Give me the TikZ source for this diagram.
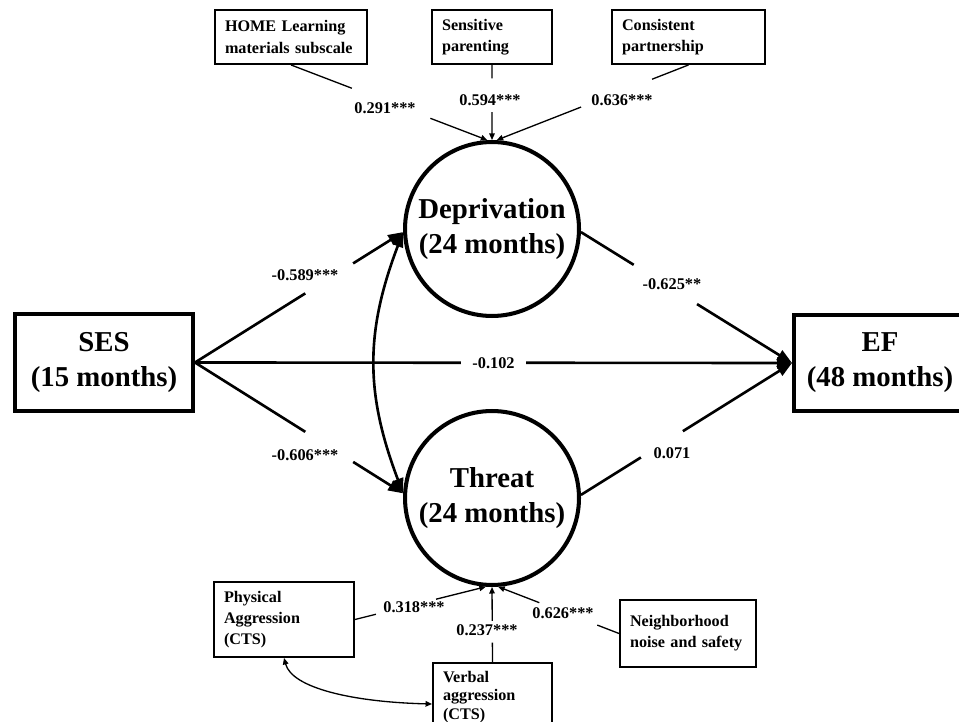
\documentclass[tikz,border=0pt]{standalone}
\usepackage{fontspec}
\setmainfont{Liberation Serif}
\usetikzlibrary{arrows.meta,calc}
\begin{document}
\begin{tikzpicture}[x=0.02cm,y=-0.02cm,
  bigtxt/.style={font=\fontsize{16.4}{20}\selectfont\bfseries, align=center},
  bigbox/.style={bigtxt, draw, line width=2.3pt, inner sep=0pt},
  latent/.style={bigtxt, draw, circle, line width=2.3pt, inner sep=0pt, minimum size=3.48cm},
  smallbox/.style={draw, line width=1.1pt, font=\fontsize{9.2}{12}\selectfont\bfseries, align=left, inner xsep=0.2cm, inner ysep=0pt},
  lbl/.style={font=\fontsize{9.3}{11}\selectfont\bfseries, inner sep=1pt},
  mainline/.style={line width=1.5pt},
  mainarrow/.style={line width=1.5pt, -{Triangle[length=0.3cm,width=0.22cm]}},
  thinline/.style={line width=0.75pt},
  thinarrow/.style={line width=0.75pt, -{Triangle[length=0.13cm,width=0.11cm]}},
]
\useasboundingbox (0,0) rectangle (959,722);

% main constructs
\node[bigbox, minimum width=3.56cm, minimum height=1.94cm] (ses) at (104,362.5) {SES\\(15 months)};
\node[bigbox, minimum width=3.44cm, minimum height=1.92cm] (ef) at (880,363) {EF\\(48 months)};
\node[latent] (dep) at (492,229) {Deprivation\\(24 months)};
\node[latent] (thr) at (492,498) {Threat\\(24 months)};

% indicators
\node[smallbox, text width=2.64cm, minimum height=1.08cm] (home) at (291,37) {HOME Learning\\materials subscale};
\node[smallbox, text width=2.0cm, minimum height=1.08cm] (sens) at (492,37) {Sensitive\\parenting};
\node[smallbox, text width=2.66cm, minimum height=1.08cm] (cons) at (688.5,37) {Consistent\\partnership};
\node[smallbox, text width=2.4cm, minimum height=1.5cm] (phys) at (284,619.5) {Physical\\Aggression\\(CTS)};
\node[smallbox, text width=1.98cm, anchor=north, inner ysep=0.16cm,
  font=\fontsize{9.2}{10.6}\selectfont\bfseries] (verb) at (492.5,662) {Verbal\\aggression\\(CTS)};
\node[smallbox, text width=2.32cm, minimum height=1.34cm] (neigh) at (688,633.5) {Neighborhood\\noise and safety};

% labels
\node[lbl] (l291) at (385,108) {0.291***};
\node[lbl] (l594) at (490,100) {0.594***};
\node[lbl] (l636) at (622,100) {0.636***};
\node[lbl] (l589) at (305,275) {-0.589***};
\node[lbl] (l606) at (305,455) {-0.606***};
\node[lbl] (l625) at (672,284) {-0.625**};
\node[lbl] (l071) at (672,453) {0.071};
\node[lbl] (l318) at (414,607) {0.318***};
\node[lbl] (l237) at (487,630) {0.237***};
\node[lbl] (l626) at (563,613) {0.626***};

% structural paths
\draw[mainarrow] (ses.east) -- node[lbl, fill=white, inner xsep=0.22cm] (l102) {-0.102} (ef.west);
\draw[mainline] (ses.east) -- ($(ses.east)!0.53!(dep.182)$);
\draw[mainarrow] ($(ses.east)!0.76!(dep.182)$) -- (dep.182);
\draw[mainline] (ses.east) -- ($(ses.east)!0.53!(thr.177)$);
\draw[mainarrow] ($(ses.east)!0.76!(thr.177)$) -- (thr.177);
\draw[mainline] (dep.-2) -- ($(dep.-2)!0.25!(ef.west)$);
\draw[mainarrow] ($(dep.-2)!0.55!(ef.west)$) -- (ef.west);
\draw[mainline] (thr.2) -- ($(thr.2)!0.284!(ef.west)$);
\draw[mainarrow] ($(thr.2)!0.483!(ef.west)$) -- (ef.west);
\draw[line width=1.5pt, {Triangle[length=0.3cm,width=0.22cm]}-{Triangle[length=0.3cm,width=0.22cm]}]
  (dep.182) .. controls +(-38,100) and +(-38,-100) .. (thr.177);

% measurement paths
\draw[thinline] (home.south) -- ($(home.south)!0.31!(dep.93)$);
\draw[thinarrow] ($(home.south)!0.71!(dep.93)$) -- (dep.93);
\draw[thinline] (sens.south) -- ($(sens.south)!0.18!(dep.north)$);
\draw[thinarrow] ($(sens.south)!0.63!(dep.north)$) -- (dep.north);
\draw[thinline] (cons.south) -- ($(cons.south)!0.19!(dep.87)$);
\draw[thinarrow] ($(cons.south)!0.56!(dep.87)$) -- (dep.87);
\draw[thinline] (phys.east) -- ($(phys.east)!0.16!(thr.-94)$);
\draw[thinarrow] ($(phys.east)!0.62!(thr.-94)$) -- (thr.-94);
\draw[thinline] (verb.north) -- ($(verb.north)!0.26!(thr.south)$);
\draw[thinarrow] ($(verb.north)!0.55!(thr.south)$) -- (thr.south);
\draw[thinline] (neigh.west) -- ($(neigh.west)!0.18!(thr.-86)$);
\draw[thinarrow] ($(neigh.west)!0.66!(thr.-86)$) -- (thr.-86);
\draw[thinline, {Triangle[length=0.13cm,width=0.11cm]}-{Triangle[length=0.13cm,width=0.11cm]}]
  (phys.south) .. controls +(8,30) and +(-80,-2) .. ($(verb.north west)+(0,42)$);
\end{tikzpicture}
\end{document}
